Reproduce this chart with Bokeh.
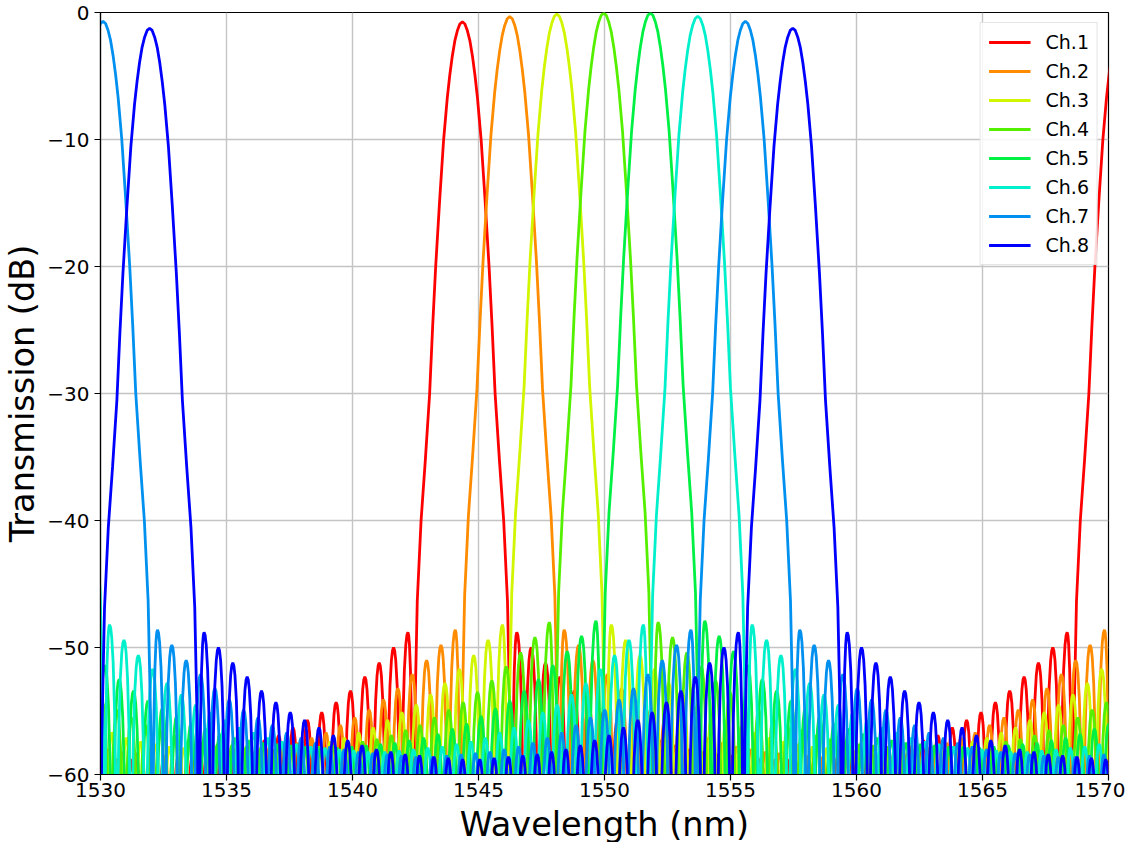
import numpy as np
from bokeh.plotting import figure
from bokeh.models import Legend, LegendItem, FixedTicker, Range1d
from bokeh.embed import file_html
from bokeh.resources import INLINE

# ---------------- data ----------------
channels = ["Ch.1", "Ch.2", "Ch.3", "Ch.4", "Ch.5", "Ch.6", "Ch.7", "Ch.8"]
colors = ["#ff0000", "#ff8c00", "#d2f500", "#55f000", "#00f044", "#00f0cc", "#0090f0", "#0000ff"]

# centre wavelength (nm) of every diffraction order of each channel near the window
centres_ch1 = [1518.20, 1544.36, 1570.52]
centres_ch2 = [1520.70, 1546.24, 1572.00]
centres_ch3 = [1522.60, 1548.11, 1573.60]
centres_ch4 = [1524.50, 1549.97, 1575.50]
centres_ch5 = [1526.30, 1551.82, 1577.30]
centres_ch6 = [1528.20, 1553.70, 1579.20]
centres_ch7 = [1530.10, 1555.59, 1581.10]
centres_ch8 = [1531.95, 1557.47, 1583.00]
centres = [centres_ch1, centres_ch2, centres_ch3, centres_ch4,
           centres_ch5, centres_ch6, centres_ch7, centres_ch8]

# peak transmission (dB) of each channel
peak_db = [-0.74, -0.32, -0.13, -0.05, -0.05, -0.30, -0.70, -1.24]
# level of the first side lobe (dB) of each channel
first_side_db = [-48.8, -48.6, -48.2, -48.0, -47.9, -48.2, -48.6, -48.8]

lobe_offset_nm = [0.00, 0.10, 0.20, 0.30, 0.40, 0.50, 0.60, 0.745, 0.90, 1.06, 1.18,
                  1.30, 1.47, 1.64, 1.79, 1.90, 1.96]
lobe_drop_db = [0.0, -0.17, -0.7, -1.5, -2.7, -4.2, -6.0, -9.3, -14.0, -19.3, -24.0,
                -29.3, -34.5, -39.3, -45.6, -56.0, -75.0]

# side lobes: first one 2.16 nm from the centre, then one every 0.57 nm
side_first_nm = 2.16
side_step_nm = 0.57
# side-lobe peak level relative to the first side lobe (dB), n-th lobe outward
side_rel_db = [0.0, -1.2, -2.4, -3.5, -4.6, -5.5, -6.3, -6.9, -7.5, -8.1, -8.5,
               -8.9, -9.2, -9.4, -9.6, -9.7, -9.8, -9.9, -10.0, -10.0, -10.1, -10.1]
# shape of one half side lobe: fraction of the way from null to peak, drop (dB)
arch_frac = [0.0, 0.15, 0.30, 0.50, 0.70, 0.85, 1.0]
arch_drop_db = [-25.0, -12.6, -6.9, -3.0, -1.0, -0.24, 0.0]

x_ticks = [1530, 1535, 1540, 1545, 1550, 1555, 1560, 1565, 1570]
y_ticks = [-60, -50, -40, -30, -20, -10, 0]


# ---------------- build each channel's trace from the read values ----------------
def side_vertices(c, sign, level0, limit):
    """vertices of the side lobes on one side of a main lobe (sign=+1 right, -1 left)."""
    xs, ys = [], []
    null = lobe_offset_nm[-1]
    for n, rel in enumerate(side_rel_db):
        pk = side_first_nm + n * side_step_nm
        nxt = pk + side_step_nm / 2.0
        lvl = level0 + rel
        for f, d in zip(arch_frac, arch_drop_db):
            xs.append(c + sign * (null + f * (pk - null)))
            ys.append(lvl + d)
        for f, d in zip(arch_frac[-2::-1], arch_drop_db[-2::-1]):
            xs.append(c + sign * (nxt + f * (pk - nxt)))
            ys.append(lvl + d)
        null = nxt
        if null > limit:
            break
    return xs, ys


def channel_trace(i):
    cs = centres[i]
    allx, ally = [], []
    for k, c in enumerate(cs):
        lo = (cs[k - 1] + c) / 2.0 if k > 0 else c - (cs[1] - cs[0]) / 2.0
        hi = (cs[k + 1] + c) / 2.0 if k < len(cs) - 1 else c + (cs[-1] - cs[-2]) / 2.0
        lx, ly = side_vertices(c, -1, first_side_db[i], c - lo)
        rx, ry = side_vertices(c, +1, first_side_db[i], hi - c)
        mx = [c - o for o in lobe_offset_nm[::-1]] + [c + o for o in lobe_offset_nm[1:]]
        my = [peak_db[i] + d for d in lobe_drop_db[::-1]] + [peak_db[i] + d for d in lobe_drop_db[1:]]
        xs = lx[::-1] + mx + rx
        ys = ly[::-1] + my + ry
        for x, y in zip(xs, ys):
            if lo <= x <= hi and 1528.5 <= x <= 1571.5:
                allx.append(x)
                ally.append(y)
    return allx, ally


# ---------------- figure ----------------
p = figure(frame_width=1008, frame_height=762,
           x_range=Range1d(1530, 1570), y_range=Range1d(-60, 0),
           output_backend="svg", toolbar_location=None,
           min_border_left=97, min_border_top=12, min_border_right=17, min_border_bottom=60,
           background_fill_color="white", border_fill_color="white")

FONT = "DejaVu Sans"
renderers = []
for i, name in enumerate(channels):
    xs, ys = channel_trace(i)
    r = p.line(xs, ys, line_color=colors[i], line_width=2.8)
    renderers.append(r)

p.xaxis.ticker = FixedTicker(ticks=x_ticks)
p.yaxis.ticker = FixedTicker(ticks=y_ticks)
p.yaxis.major_label_overrides = {t: (str(t).replace("-", "\u2212")) for t in y_ticks}
p.xaxis.axis_label = "Wavelength (nm)"
p.yaxis.axis_label = "Transmission (dB)"
for ax in (p.xaxis, p.yaxis):
    ax.axis_label_text_font = FONT
    ax.axis_label_text_font_size = "33.5px"
    ax.axis_label_text_font_style = "normal"
    ax.axis_label_text_color = "black"
    ax.major_label_text_font = FONT
    ax.major_label_text_font_size = "20px"
    ax.major_label_text_color = "black"
    ax.axis_line_color = "black"
    ax.axis_line_width = 1.2
    ax.major_tick_line_color = "black"
    ax.major_tick_line_width = 1.2
    ax.major_tick_out = 6
    ax.major_tick_in = 0
    ax.minor_tick_line_color = None
p.xaxis.major_label_standoff = 2
p.xaxis.axis_label_standoff = 5
p.yaxis.major_label_standoff = 5
p.yaxis.axis_label_standoff = 2

p.grid.grid_line_color = "#c4c4c4"
p.grid.grid_line_width = 1.4
p.outline_line_color = "black"
p.outline_line_width = 1.2

legend = Legend(items=[LegendItem(label=n, renderers=[r]) for n, r in zip(channels, renderers)],
                location="top_right")
legend.margin = 10
legend.padding = 8
legend.spacing = 7
legend.glyph_width = 42
legend.glyph_height = 20
legend.label_height = 20
legend.label_standoff = 15
legend.label_text_font = FONT
legend.label_text_font_size = "19px"
legend.label_text_color = "black"
legend.border_line_color = "#cccccc"
legend.border_line_width = 1
legend.background_fill_color = "white"
legend.background_fill_alpha = 0.85
p.add_layout(legend)

open("out.html", "w").write(file_html(p, INLINE))
